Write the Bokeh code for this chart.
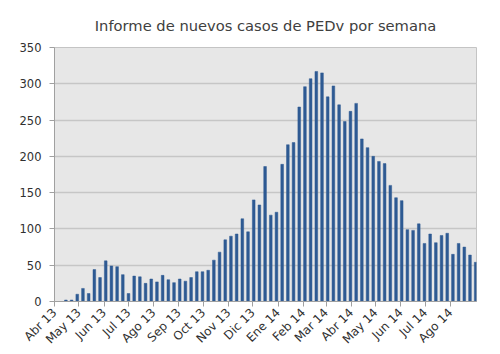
import datetime as dt
import math
from bokeh.plotting import figure
from bokeh.models import ColumnDataSource, FixedTicker, Range1d
from bokeh.embed import file_html
from bokeh.resources import INLINE

# ---- data ----
start_date = dt.date(2013, 4, 1)
week_dates = [start_date + dt.timedelta(days=7 * i) for i in range(75)]
cases = [0, 0, 2, 2, 10, 18, 11, 44, 33, 56, 49, 48, 37, 11, 35, 34, 25, 31, 27, 36,
         30, 26, 31, 28, 33, 41, 41, 43, 57, 68, 85, 90, 93, 114, 96, 140, 133, 186, 119, 123,
         189, 216, 219, 268, 296, 307, 317, 315, 282, 297, 271, 248, 262, 273, 224, 212, 200, 193, 190, 160,
         143, 139, 99, 98, 107, 80, 93, 81, 91, 94, 65, 80, 75, 64, 54]
month_labels = ["Abr 13", "May 13", "Jun 13", "Jul 13", "Ago 13", "Sep 13", "Oct 13", "Nov 13",
                "Dic 13", "Ene 14", "Feb 14", "Mar 14", "Abr 14", "May 14", "Jun 14", "Jul 14", "Ago 14"]
month_starts = [dt.date(2013 + (3 + k) // 12, (3 + k) % 12 + 1, 1) for k in range(17)]
y_ticks = [0, 50, 100, 150, 200, 250, 300, 350]
title_text = "Informe de nuevos casos de PEDv por semana"

x_days = [(d - start_date).days for d in week_dates]
tick_days = [(d - start_date).days for d in month_starts]
axis_end = (dt.date(2014, 9, 1) - start_date).days + 1

src = ColumnDataSource(dict(x=x_days, top=cases))

FONT = "DejaVu Sans"
p = figure(width=500, height=354, output_backend="svg", toolbar_location=None,
           x_range=Range1d(0, axis_end), y_range=Range1d(0, 350),
           min_border_left=54, min_border_right=24, min_border_top=47, min_border_bottom=53)

p.title.text = title_text
p.title.align = "center"
p.title.text_font = FONT
p.title.text_font_size = "14.7px"
p.title.text_font_style = "normal"
p.title.text_color = "#404040"
p.title.standoff = 27

p.background_fill_color = "#e7e7e7"
p.border_fill_color = "white"
p.outline_line_color = "#c4c4c4"

p.vbar(x="x", top="top", width=3.3, bottom=0, source=src,
       fill_color="#2e5a93", line_color="#2e5a93", line_width=0.5)

p.xgrid.grid_line_color = None
p.ygrid.grid_line_color = "#c6c6c6"
p.ygrid.grid_line_width = 1.5
p.ygrid.ticker = FixedTicker(ticks=y_ticks)

p.yaxis.ticker = FixedTicker(ticks=y_ticks)
p.xaxis.ticker = FixedTicker(ticks=tick_days)
p.xaxis.major_label_overrides = {d: lab for d, lab in zip(tick_days, month_labels)}
p.xaxis.major_label_orientation = math.pi / 4

for ax in (p.xaxis, p.yaxis):
    ax.axis_line_color = "#a0a0a0"
    ax.major_tick_line_color = "#a0a0a0"
    ax.major_tick_out = 5
    ax.major_tick_in = 0
    ax.minor_tick_line_color = None
    ax.major_label_text_font = FONT
    ax.major_label_text_color = "#303030"

p.xaxis.major_label_text_font_size = "12px"
p.yaxis.major_label_text_font_size = "11.5px"
p.yaxis.major_label_standoff = 8
p.xaxis.major_label_standoff = 4

open("out.html", "w").write(file_html(p, INLINE))
